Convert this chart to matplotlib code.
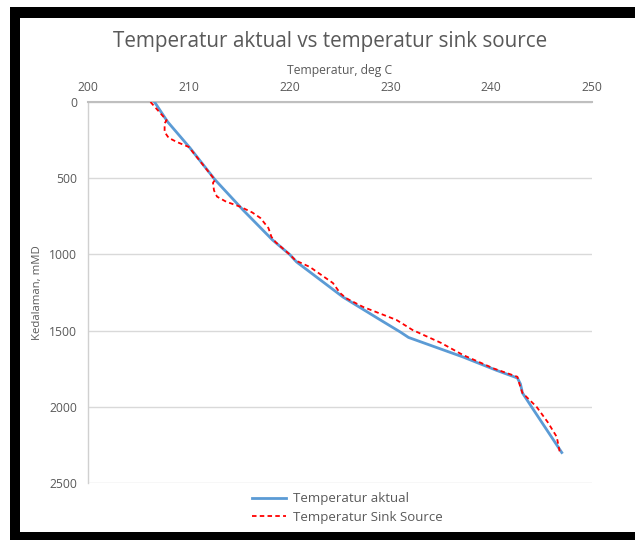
import numpy as np
import matplotlib
matplotlib.use("Agg")
import matplotlib.pyplot as plt
from matplotlib.patches import Rectangle

plt.rcParams['font.family'] = ['Open Sans', 'DejaVu Sans']

# temperatur aktual (deg C) vs kedalaman (mMD)
depth_aktual = [0, 130, 300, 510, 710, 905, 1000, 1050, 1280, 1430, 1510, 1545,
                1673, 1760, 1811, 1850, 1909, 2000, 2150, 2300]
temp_aktual = [206.6, 207.9, 210.1, 212.6, 215.4, 218.3, 220.0, 220.7, 225.3, 229.0,
               231.0, 231.8, 237.2, 240.5, 242.6, 242.9, 243.1, 244.0, 245.5, 247.0]

# temperatur sink source
depth_sink = [0, 120, 140, 197, 235, 262, 295, 512, 530, 580, 621, 654, 687, 725,
              761, 827, 885, 919, 1000, 1040, 1082, 1188, 1253, 1287, 1345, 1430,
              1496, 1580, 1660, 1750, 1803, 1850, 1909, 2000, 2100, 2197, 2296]
temp_sink = [206.2, 207.8, 207.6, 207.6, 208.0, 208.8, 210.0, 212.6, 212.4, 212.5,
             212.8, 213.7, 215.1, 216.3, 217.1, 217.9, 218.2, 218.6, 220.0, 220.6,
             222.0, 224.3, 225.0, 225.6, 227.3, 230.6, 232.2, 235.0, 237.2, 240.3,
             242.6, 242.8, 243.1, 244.5, 245.6, 246.5, 246.8]

xticks = [200, 210, 220, 230, 240, 250]
yticks = [0, 500, 1000, 1500, 2000, 2500]

txt = '#595959'
W, H = 635, 540
fig = plt.figure(figsize=(W / 100, H / 100), dpi=100)

# black frame round the chart (right edge is cut off in the original)
fig.patches.append(Rectangle((10 / W, 0), 1, 1 - 7 / H, transform=fig.transFigure,
                             facecolor='black', edgecolor='none', zorder=-2))
fig.patches.append(Rectangle((20 / W, 8 / H), 1, (532 - 18) / H,
                             transform=fig.transFigure, facecolor='white',
                             edgecolor='none', zorder=-1))

ax = fig.add_axes([88 / W, 1 - 483 / H, (592 - 88) / W, (483 - 102) / H])
ax.set_facecolor('none')

ax.plot(temp_aktual, depth_aktual, color='#5B9BD5', lw=2.0, label='Temperatur aktual',
        solid_joinstyle='round', zorder=3)
ax.plot(temp_sink, depth_sink, color='#FF0000', lw=1.3, ls=(0, (2.5, 1.8)),
        label='Temperatur Sink Source', zorder=4)

ax.set_xlim(200, 250)
ax.set_ylim(2500, 0)
ax.set_xticks(xticks)
ax.set_yticks(yticks)
ax.xaxis.tick_top()
ax.xaxis.set_label_position('top')
ax.tick_params(length=0, labelsize=8.7, colors=txt, pad=6)
ax.tick_params(axis='y', pad=8)

ax.grid(axis='y', color='#D9D9D9', lw=1)
ax.set_axisbelow(True)
for s in ['right', 'bottom']:
    ax.spines[s].set_visible(False)
ax.spines['top'].set_color('#BFBFBF')
ax.spines['top'].set_linewidth(1.5)
ax.spines['left'].set_color('#D0D0D0')
ax.spines['left'].set_linewidth(1)

ax.set_xlabel('Temperatur, deg C', fontsize=8.7, color=txt, labelpad=5)
ax.set_ylabel('Kedalaman, mMD', fontsize=8.2, color=txt, labelpad=4)

fig.text(330 / W, 1 - 42 / H, 'Temperatur aktual vs temperatur sink source',
         fontsize=14.9, color=txt, ha='center', va='center')

leg = ax.legend(loc='center', bbox_to_anchor=(347 / W, 1 - 508 / H),
                bbox_transform=fig.transFigure, frameon=False, fontsize=9.5,
                handlelength=2.6, labelspacing=0.4, handletextpad=0.5)
for t in leg.get_texts():
    t.set_color(txt)

fig.savefig('out.png', dpi=100)
